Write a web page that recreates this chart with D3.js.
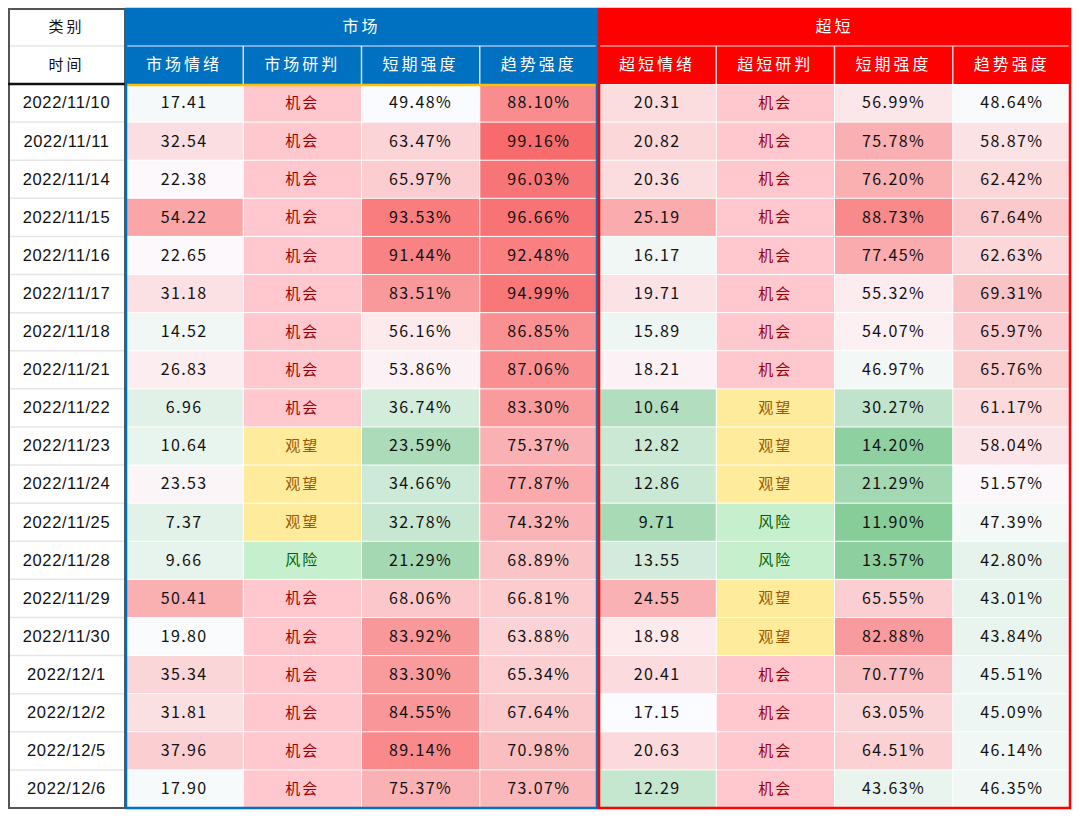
<!DOCTYPE html>
<html><head><meta charset="utf-8">
<script src="https://cdn.jsdelivr.net/npm/d3@7"></script>
<style>
html,body{margin:0;padding:0;background:#fff;}
svg{display:block;}
</style></head>
<body>
<svg id="chart" width="1080" height="816"></svg>
<script>
const dates = ["2022/11/10","2022/11/11","2022/11/14","2022/11/15","2022/11/16","2022/11/17","2022/11/18","2022/11/21","2022/11/22","2022/11/23","2022/11/24","2022/11/25","2022/11/28","2022/11/29","2022/11/30","2022/12/1","2022/12/2","2022/12/5","2022/12/6"];
const groups = ["市场","超短"];
const subHeaders = ["市场情绪","市场研判","短期强度","趋势强度","超短情绪","超短研判","短期强度","趋势强度"];
const marketMood = [17.41,32.54,22.38,54.22,22.65,31.18,14.52,26.83,6.96,10.64,23.53,7.37,9.66,50.41,19.80,35.34,31.81,37.96,17.90];
const marketJudge = ["机会","机会","机会","机会","机会","机会","机会","机会","机会","观望","观望","观望","风险","机会","机会","机会","机会","机会","机会"];
const marketShort = [49.48,63.47,65.97,93.53,91.44,83.51,56.16,53.86,36.74,23.59,34.66,32.78,21.29,68.06,83.92,83.30,84.55,89.14,75.37];
const marketTrend = [88.10,99.16,96.03,96.66,92.48,94.99,86.85,87.06,83.30,75.37,77.87,74.32,68.89,66.81,63.88,65.34,67.64,70.98,73.07];
const superMood = [20.31,20.82,20.36,25.19,16.17,19.71,15.89,18.21,10.64,12.82,12.86,9.71,13.55,24.55,18.98,20.41,17.15,20.63,12.29];
const superJudge = ["机会","机会","机会","机会","机会","机会","机会","机会","观望","观望","观望","风险","风险","观望","观望","机会","机会","机会","机会"];
const superShort = [56.99,75.78,76.20,88.73,77.45,55.32,54.07,46.97,30.27,14.20,21.29,11.90,13.57,65.55,82.88,70.77,63.05,64.51,43.63];
const superTrend = [48.64,58.87,62.42,67.64,62.63,69.31,65.97,65.76,61.17,58.04,51.57,47.39,42.80,43.01,43.84,45.51,45.09,46.14,46.35];

// colour scale domains (min, mid, max) per column kind
const moodDomainMarket = [-60, 21, 77];
const moodDomainSuper = [3.6, 17.2, 31.7];
const pctDomain = [0, 50, 100];

const judgeStyle = {
  "机会": {bg:"#FFC7CE", fg:"#9C0006"},
  "观望": {bg:"#FFEB9C", fg:"#9C5700"},
  "风险": {bg:"#C6EFCE", fg:"#006100"}
};

const columns = [
  {type:"num", values: marketMood, domain: moodDomainMarket},
  {type:"judge", values: marketJudge},
  {type:"pct", values: marketShort, domain: pctDomain},
  {type:"pct", values: marketTrend, domain: pctDomain},
  {type:"num", values: superMood, domain: moodDomainSuper},
  {type:"judge", values: superJudge},
  {type:"pct", values: superShort, domain: pctDomain},
  {type:"pct", values: superTrend, domain: pctDomain}
];

const svg = d3.select("#chart");
const L = 8, R = 1071, T = 8, B = 808;
const dateW = 117;
const H1 = 46, H2 = 84;
const x = d3.scaleBand().domain(d3.range(8)).range([L + dateW, R]);
const y = d3.scaleBand().domain(d3.range(dates.length)).range([H2, B]);
const gx = d3.scaleBand().domain(d3.range(2)).range([L + dateW, R]);
const groupColor = ["#0070C0", "#FF0000"];

const cjk = "'Noto Sans CJK SC','Noto Sans',sans-serif";

// data cells
columns.forEach((col, ci) => {
  const g = svg.append("g");
  const color = col.domain ? d3.scaleLinear().domain(col.domain).range(["#63BE7B","#FCFCFF","#F8696B"]).clamp(true) : null;
  g.selectAll("rect").data(col.values).join("rect")
    .attr("x", x(ci) + 0.5).attr("width", x.bandwidth() - 1)
    .attr("y", (d,i) => y(i) + 0.5).attr("height", y.bandwidth() - 1)
    .attr("fill", d => col.type === "judge" ? judgeStyle[d].bg : color(d));
  g.selectAll("text").data(col.values).join("text")
    .attr("x", x(ci) + x.bandwidth()/2)
    .attr("y", (d,i) => y(i) + y.bandwidth()/2 + 1)
    .attr("text-anchor","middle").attr("dominant-baseline","middle")
    .attr("font-family", col.type === "judge" ? cjk : "'Noto Sans CJK SC',sans-serif")
    .attr("font-size", col.type === "judge" ? 15 : 16)
    .attr("letter-spacing", col.type === "judge" ? 2 : 1.4)
    .attr("fill", d => col.type === "judge" ? judgeStyle[d].fg : "#111")
    .text(d => col.type === "judge" ? d : col.type === "pct" ? d.toFixed(2) + "%" : d.toFixed(2));
});

// date column
const dg = svg.append("g");
dg.selectAll("line").data(dates.slice(1)).join("line")
  .attr("x1", L).attr("x2", L + dateW)
  .attr("y1", (d,i) => y(i+1)).attr("y2", (d,i) => y(i+1))
  .attr("stroke", "#e6e6e6").attr("stroke-width", 1.5);
dg.selectAll("text").data(dates).join("text")
  .attr("x", L + dateW/2).attr("y", (d,i) => y(i) + y.bandwidth()/2 + 1)
  .attr("text-anchor","middle").attr("dominant-baseline","middle")
  .attr("font-family","'Liberation Sans',Arial,sans-serif").attr("font-size",16.5).attr("letter-spacing",0.6)
  .attr("fill","#111").text(d => d);

// left header
svg.append("line").attr("x1", L).attr("x2", L + dateW).attr("y1", H1).attr("y2", H1).attr("stroke","#e6e6e6").attr("stroke-width",1.5);
svg.append("text").attr("x", L + dateW/2).attr("y", (T+H1)/2 + 1).attr("text-anchor","middle").attr("dominant-baseline","middle")
  .attr("font-family", cjk).attr("font-size",15).attr("letter-spacing",3).attr("fill","#111").text("类别");
svg.append("text").attr("x", L + dateW/2).attr("y", (H1+H2)/2 + 1).attr("text-anchor","middle").attr("dominant-baseline","middle")
  .attr("font-family", cjk).attr("font-size",15).attr("letter-spacing",3).attr("fill","#111").text("时间");
svg.append("rect").attr("x", L + 1).attr("y", T + 1).attr("width", dateW - 1).attr("height", B - T - 1)
  .attr("fill","none").attr("stroke","#555").attr("stroke-width",2);
svg.append("line").attr("x1", L).attr("x2", L + dateW).attr("y1", H2).attr("y2", H2).attr("stroke","#111").attr("stroke-width",2.5);

// group headers
groups.forEach((name, gi) => {
  const gx0 = gx(gi), gw = gx.bandwidth();
  svg.append("rect").attr("x", gx0).attr("y", T).attr("width", gw).attr("height", H2 - T).attr("fill", groupColor[gi]);
  svg.append("line").attr("x1", gx0).attr("x2", gx0 + gw).attr("y1", H1).attr("y2", H1)
    .attr("stroke", gi === 0 ? "#9DC3E6" : "#FF9999").attr("stroke-width",1.5);
  svg.append("text").attr("x", gx0 + gw/2).attr("y", (T+H1)/2 + 1).attr("text-anchor","middle").attr("dominant-baseline","middle")
    .attr("font-family", cjk).attr("font-size",16).attr("letter-spacing",3).attr("fill","#fff").text(name);
});

// sub headers
svg.append("g").selectAll("line").data(d3.range(8).filter(i => i !== 0 && i !== 4)).join("line")
  .attr("x1", i => x(i)).attr("x2", i => x(i)).attr("y1", H1).attr("y2", H2)
  .attr("stroke", "#ffffff").attr("stroke-opacity", 0.8).attr("stroke-width", 1.5);
svg.append("g").selectAll("text").data(subHeaders).join("text")
  .attr("x", (d,i) => x(i) + x.bandwidth()/2).attr("y", (H1+H2)/2 + 1)
  .attr("text-anchor","middle").attr("dominant-baseline","middle")
  .attr("font-family", cjk).attr("font-size",16).attr("letter-spacing",3).attr("fill","#fff").text(d => d);

// orange line under market header
svg.append("line").attr("x1", gx(0) + 2).attr("x2", gx(0) + gx.bandwidth() - 2).attr("y1", H2 + 1).attr("y2", H2 + 1)
  .attr("stroke", "#FFC000").attr("stroke-width", 2.5);

// group borders
groups.forEach((name, gi) => {
  svg.append("rect").attr("x", gx(gi) + 1).attr("y", T + 1).attr("width", gx.bandwidth() - 2).attr("height", B - T - 1)
    .attr("fill","none").attr("stroke", groupColor[gi]).attr("stroke-width", 2.5);
});
</script>
</body></html>
